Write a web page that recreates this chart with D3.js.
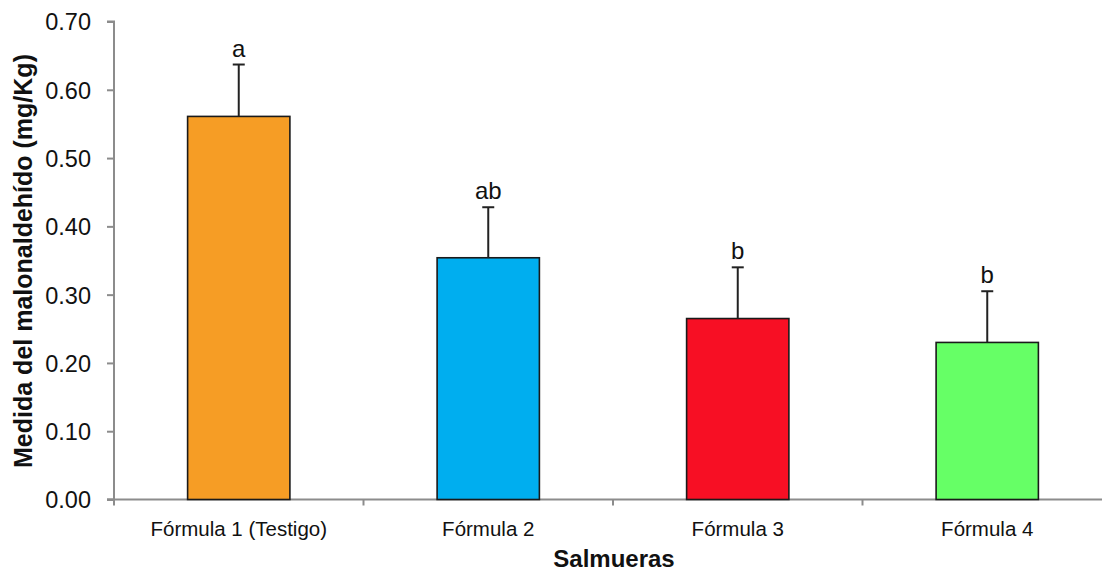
<!DOCTYPE html>
<html>
<head>
<meta charset="utf-8">
<script src="https://cdn.jsdelivr.net/npm/d3@7"></script>
<style>
  body { margin: 0; background: #fff; }
  text { font-family: "Liberation Sans", Arial, sans-serif; }
</style>
</head>
<body>
<svg id="chart" width="1102" height="574"></svg>
<script>
const categories = ["Fórmula 1 (Testigo)", "Fórmula 2", "Fórmula 3", "Fórmula 4"]
const means = [0.561, 0.354, 0.265, 0.230]
const errors = [0.076, 0.074, 0.075, 0.075]
const letters = ["a", "ab", "b", "b"]
const colours = ["#F69D25", "#00AEEF", "#F70F24", "#66FF66"]
const yTicks = [0, 0.1, 0.2, 0.3, 0.4, 0.5, 0.6, 0.7]

const svg = d3.select("#chart")
const margin = {top: 21.5, left: 114, bottom: 499.5}
const width = 998

const x = d3.scaleBand().domain(categories).range([margin.left, margin.left + width]).paddingInner(0.59).paddingOuter(0.295)
const y = d3.scaleLinear().domain([0, 0.7]).range([margin.bottom, margin.top])

// y axis
const yAxis = svg.append("g")
    .attr("transform", `translate(${margin.left},0)`)
    .call(d3.axisLeft(y).tickValues(yTicks).tickFormat(d3.format(".2f")).tickSize(7).tickPadding(16))
yAxis.selectAll("line, path").attr("stroke", "#8c8c8c").attr("stroke-width", 2)
yAxis.select(".domain").attr("d", `M-7,${margin.top}H0V${margin.bottom}H-7`)
yAxis.selectAll("text").attr("font-size", 23.5).attr("fill", "#111").attr("dy", "0.36em")

// x axis line with ticks between categories
const xg = svg.append("g")
xg.append("line")
    .attr("x1", margin.left - 7).attr("x2", 1102)
    .attr("y1", margin.bottom).attr("y2", margin.bottom)
    .attr("stroke", "#8c8c8c").attr("stroke-width", 2)
d3.range(5).forEach(i => {
    const tx = margin.left + i * (width / 4)
    xg.append("line")
        .attr("x1", tx).attr("x2", tx)
        .attr("y1", margin.bottom).attr("y2", margin.bottom + 6)
        .attr("stroke", "#8c8c8c").attr("stroke-width", 2)
})
xg.selectAll("text.cat")
    .data(categories)
    .join("text")
    .attr("class", "cat")
    .attr("x", d => x(d) + x.bandwidth() / 2)
    .attr("y", 536)
    .attr("text-anchor", "middle")
    .attr("font-size", 20.5)
    .attr("fill", "#111")
    .text(d => d)

// bars
svg.selectAll("rect.bar")
    .data(means)
    .join("rect")
    .attr("class", "bar")
    .attr("x", (d, i) => x(categories[i]))
    .attr("y", d => y(d))
    .attr("width", x.bandwidth())
    .attr("height", d => y(0) - y(d))
    .attr("fill", (d, i) => colours[i])
    .attr("stroke", "#1a1a1a")
    .attr("stroke-width", 1.6)

// error bars
const eb = svg.selectAll("g.err")
    .data(means)
    .join("g")
    .attr("class", "err")
eb.append("line")
    .attr("x1", (d, i) => x(categories[i]) + x.bandwidth() / 2)
    .attr("x2", (d, i) => x(categories[i]) + x.bandwidth() / 2)
    .attr("y1", d => y(d))
    .attr("y2", (d, i) => y(d + errors[i]))
    .attr("stroke", "#222").attr("stroke-width", 2)
eb.append("line")
    .attr("x1", (d, i) => x(categories[i]) + x.bandwidth() / 2 - 6)
    .attr("x2", (d, i) => x(categories[i]) + x.bandwidth() / 2 + 6)
    .attr("y1", (d, i) => y(d + errors[i]))
    .attr("y2", (d, i) => y(d + errors[i]))
    .attr("stroke", "#222").attr("stroke-width", 2)

// significance letters
svg.selectAll("text.letter")
    .data(letters)
    .join("text")
    .attr("class", "letter")
    .attr("x", (d, i) => x(categories[i]) + x.bandwidth() / 2)
    .attr("y", (d, i) => y(means[i] + errors[i]) - 8)
    .attr("text-anchor", "middle")
    .attr("font-size", 24)
    .attr("fill", "#111")
    .text(d => d)

// axis titles
svg.append("text")
    .attr("transform", `translate(32,261) rotate(-90)`)
    .attr("text-anchor", "middle")
    .attr("font-size", 25)
    .attr("font-weight", "bold")
    .attr("fill", "#111")
    .text("Medida del malonaldehído (mg/Kg)")

svg.append("text")
    .attr("x", 614)
    .attr("y", 567)
    .attr("text-anchor", "middle")
    .attr("font-size", 24)
    .attr("font-weight", "bold")
    .attr("fill", "#111")
    .text("Salmueras")
</script>
</body>
</html>
